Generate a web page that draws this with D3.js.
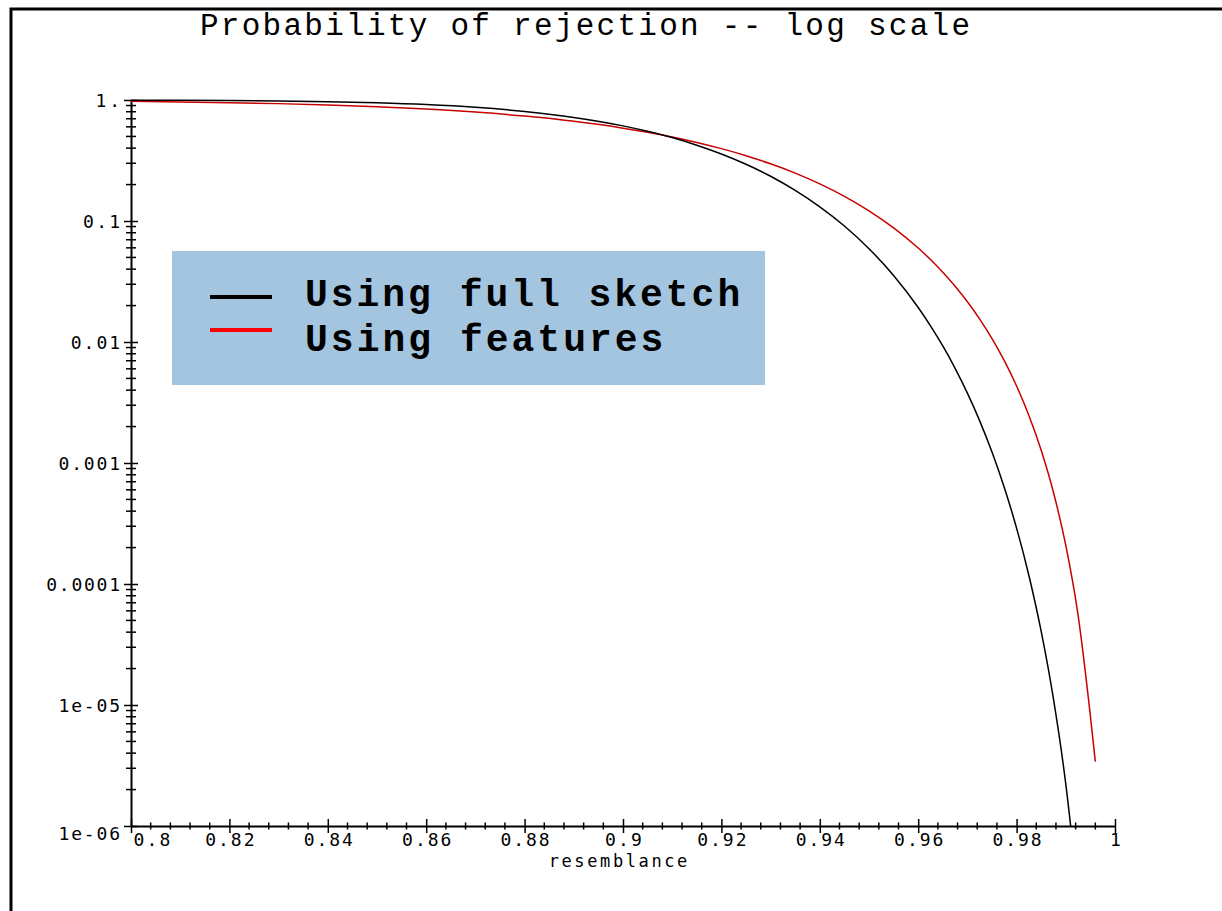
<!DOCTYPE html>
<html><head><meta charset="utf-8">
<script src="https://cdn.jsdelivr.net/npm/d3@7"></script>
<style>html,body{margin:0;padding:0;background:#fff;} svg{display:block;}</style>
</head><body>
<svg id="chart" width="1222" height="911"></svg>
<script>
const titleText = "Probability of rejection -- log scale";
const xAxisTitle = "resemblance";
const seriesNames = ["Using full sketch", "Using features"];

const resemblanceFull = [0.80,0.81,0.82,0.83,0.84,0.85,0.86,0.87,0.88,0.89,0.90,0.905,0.91,0.915,0.92,0.925,0.93,0.935,0.94,0.945,0.95,0.955,0.96,0.9625,0.965,0.9675,0.97,0.9725,0.975,0.9775,0.98,0.9825,0.985,0.9875,0.99,0.9925];
const rejectFull = [0.9970,0.99437,0.98974,0.98182,0.96874,0.94790,0.91600,0.86929,0.80408,0.71796,0.61114,0.55114,0.48912,0.42298,0.35778,0.29418,0.23421,0.1791,0.13103,0.09098,0.05904,0.03545,0.01928,0.013611,0.0092684,0.0060587,0.0037780,0.0022284,0.0012302,6.2672e-4,2.8910e-4,1.17597e-4,4.0561e-5,1.1168e-5,2.2183e-6,2.6294e-7];

const resemblanceFeatures = [0.80,0.81,0.82,0.83,0.84,0.85,0.86,0.87,0.88,0.89,0.90,0.905,0.91,0.915,0.92,0.925,0.93,0.935,0.94,0.945,0.95,0.955,0.96,0.9625,0.965,0.9675,0.97,0.9725,0.975,0.9775,0.98,0.9825,0.985,0.9875,0.99,0.9925,0.995,0.996];
const rejectFeatures = [0.97422,0.96432,0.95101,0.93334,0.91023,0.88026,0.84211,0.79435,0.73597,0.66612,0.58493,0.54055,0.49404,0.44574,0.39631,0.34649,0.29697,0.24876,0.20272,0.15997,0.12136,0.087763,0.059775,0.047997,0.037705,0.028894,0.021503,0.015463,0.010672,0.0070080,0.0043271,0.0024704,0.0012728,5.6994e-4,2.0816e-4,5.5086e-5,8.0921e-6,3.4e-6];

const xTickValues = [0.8,0.82,0.84,0.86,0.88,0.9,0.92,0.94,0.96,0.98,1];
const xTickLabels = ["0.8","0.82","0.84","0.86","0.88","0.9","0.92","0.94","0.96","0.98","1"];
const yTickValues = [1,0.1,0.01,0.001,0.0001,1e-5,1e-6];
const yTickLabels = ["1.","0.1","0.01","0.001","0.0001","1e-05","1e-06"];

const svg = d3.select("#chart");
const x = d3.scaleLinear().domain([0.8, 1]).range([131, 1115]);
const y = d3.scaleLog().domain([1e-6, 1]).range([826, 100]);
const tickFont = "'DejaVu Sans Mono', monospace";
const tickSize = 18;
const charW = 12.3;

// frame
svg.append("path").attr("d", "M11,911V9H1222").attr("fill", "none")
  .attr("stroke", "#000").attr("stroke-width", 3);

// title
svg.append("text").attr("x", 585).attr("y", 35).attr("text-anchor", "middle")
  .attr("font-family", "'Liberation Mono','Courier New',monospace").attr("font-size", 31)
  .attr("textLength", 770).attr("lengthAdjust", "spacing").attr("fill", "#000")
  .text(titleText);

// y axis
const x0 = x(0.8);
const yAxis = svg.append("g").attr("transform", `translate(${x0},0)`)
  .call(d3.axisLeft(y).tickValues(yTickValues).tickFormat((d, i) => yTickLabels[i])
    .tickSizeInner(7).tickSizeOuter(0).tickPadding(4));
yAxis.select(".domain").attr("stroke", "#000").attr("stroke-width", 2);
yAxis.selectAll(".tick line").attr("x1", 7).attr("x2", -7).attr("stroke", "#000").attr("stroke-width", 1.5);
yAxis.selectAll(".tick text")
  .attr("font-family", tickFont).attr("font-size", tickSize).attr("fill", "#000")
  .attr("textLength", (d, i) => yTickLabels[i].length * charW).attr("lengthAdjust", "spacing")
  .attr("dy", (d, i) => i === yTickLabels.length - 1 ? "0.75em" : "0.36em");

const yMinor = [];
for (let e = -6; e < 0; e++) for (let k = 2; k <= 9; k++) yMinor.push(k * Math.pow(10, e));
svg.append("g").selectAll("line").data(yMinor).join("line")
  .attr("x1", x0 - 5).attr("x2", x0 + 5)
  .attr("y1", d => y(d)).attr("y2", d => y(d))
  .attr("stroke", "#000").attr("stroke-width", 1.5);

// x axis
const yBase = y(1e-6);
const xAxis = svg.append("g").attr("transform", `translate(0,${yBase})`)
  .call(d3.axisBottom(x).tickValues(xTickValues).tickFormat((d, i) => xTickLabels[i])
    .tickSizeInner(7).tickSizeOuter(0));
xAxis.select(".domain").attr("stroke", "#000").attr("stroke-width", 2);
xAxis.selectAll(".tick line").attr("y1", -7).attr("y2", 7).attr("stroke", "#000").attr("stroke-width", 1.5);
xAxis.selectAll(".tick text")
  .attr("font-family", tickFont).attr("font-size", tickSize).attr("fill", "#000")
  .attr("y", 20).attr("dy", 0)
  .attr("textLength", (d, i) => xTickLabels[i].length * charW).attr("lengthAdjust", "spacing")
  .attr("text-anchor", (d, i) => i === 0 ? "start" : "middle")
  .attr("x", (d, i) => i === 0 ? 2 : 0);

const xMinor = d3.range(0, 50).map(i => 0.8 + i * 0.004).filter((d, i) => i % 5 !== 0);
svg.append("g").selectAll("line").data(xMinor).join("line")
  .attr("x1", d => x(d)).attr("x2", d => x(d))
  .attr("y1", yBase - 3.5).attr("y2", yBase + 3.5)
  .attr("stroke", "#000").attr("stroke-width", 1.5);

svg.append("text").attr("x", 618).attr("y", 867).attr("text-anchor", "middle")
  .attr("font-family", tickFont).attr("font-size", 17).attr("fill", "#000")
  .attr("textLength", xAxisTitle.length * 12.6).attr("lengthAdjust", "spacing")
  .text(xAxisTitle);

// curves
svg.append("clipPath").attr("id", "plotclip").append("rect")
  .attr("x", x0).attr("y", 90).attr("width", x(1) - x0).attr("height", yBase - 90);
const line = d3.line().x(d => x(d[0])).y(d => y(d[1])).curve(d3.curveMonotoneX);
const plot = svg.append("g").attr("clip-path", "url(#plotclip)");
plot.append("path").datum(d3.zip(resemblanceFeatures, rejectFeatures))
  .attr("d", line).attr("fill", "none").attr("stroke", "#c80000").attr("stroke-width", 1.5);
plot.append("path").datum(d3.zip(resemblanceFull, rejectFull))
  .attr("d", line).attr("fill", "none").attr("stroke", "#000").attr("stroke-width", 1.5);

// legend
svg.append("rect").attr("x", 172).attr("y", 251).attr("width", 593).attr("height", 134).attr("fill", "#a4c5e0");
const legendColors = ["#000", "#ff0000"];
const legendY = [297, 330];
seriesNames.forEach((name, i) => {
  svg.append("line").attr("x1", 210).attr("x2", 272).attr("y1", legendY[i]).attr("y2", legendY[i])
    .attr("stroke", legendColors[i]).attr("stroke-width", 4);
  svg.append("text").attr("x", 305).attr("y", [306, 351][i])
    .attr("font-family", "'Liberation Mono','Courier New',monospace").attr("font-weight", "bold")
    .attr("font-size", 38).attr("fill", "#000")
    .attr("textLength", name.length * 25.6).attr("lengthAdjust", "spacing")
    .text(name);
});
</script>
</body></html>
